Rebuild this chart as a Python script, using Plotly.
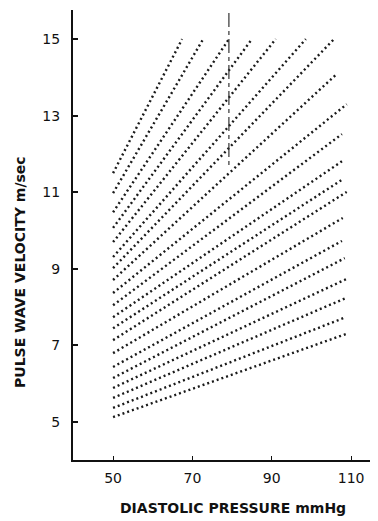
import plotly.graph_objects as go

# Diastolic pressure (mmHg) where every curve starts
start_pressure = [50] * 20
# Pulse wave velocity (m/sec) at the start of each curve
start_velocity = [11.50, 10.98, 10.48, 10.07, 9.70, 9.31, 9.02, 8.71, 8.37, 8.05,
                  7.74, 7.45, 7.14, 6.80, 6.44, 6.15, 5.89, 5.63, 5.37, 5.13]
# Diastolic pressure (mmHg) at the end of each curve
end_pressure = [67.4, 72.7, 79.2, 85.0, 91.0, 98.6, 105.7, 106.4, 108.9, 107.7,
                107.7, 107.9, 108.9, 107.9, 107.7, 108.4, 108.7, 108.7, 108.7, 108.7]
# Pulse wave velocity (m/sec) at the end of each curve
end_velocity = [15.0, 15.0, 15.0, 15.0, 15.0, 15.0, 15.0, 14.09, 13.30, 12.52,
                11.81, 11.34, 11.01, 10.33, 9.73, 9.28, 8.73, 8.24, 7.74, 7.30]

# vertical reference marker
marker_pressure = [79.2, 79.2]
marker_velocity = [15.68, 11.66]

x_ticks = [50, 70, 90, 110]
y_ticks = [5, 7, 9, 11, 13, 15]

x_title = "DIASTOLIC PRESSURE mmHg"
y_title = "PULSE WAVE VELOCITY m/sec"

fig = go.Figure()
for p0, v0, p1, v1 in zip(start_pressure, start_velocity, end_pressure, end_velocity):
    fig.add_trace(go.Scatter(
        x=[p0, p1], y=[v0, v1], mode="lines",
        line=dict(color="#1a1a1a", width=2.4, dash="2px,3px"),
        showlegend=False, hoverinfo="skip"))

fig.add_trace(go.Scatter(
    x=marker_pressure, y=marker_velocity, mode="lines",
    line=dict(color="#333333", width=1.2, dash="14px,4px,4px,4px"),
    showlegend=False, hoverinfo="skip"))

font_family = "DejaVu Sans, Liberation Sans, sans-serif"
title_font = dict(size=14, family=font_family, weight="bold", color="#111111")

fig.update_layout(
    width=378, height=513,
    margin=dict(l=65, r=0, t=2, b=61),
    paper_bgcolor="white", plot_bgcolor="white",
    font=dict(family=font_family, color="#111111"),
    xaxis=dict(
        range=[39.9, 118.8], tickvals=x_ticks, ticktext=[str(t) for t in x_ticks],
        automargin=False,
        showgrid=False, zeroline=False, showline=True, linecolor="#111111", linewidth=2,
        ticks="inside", ticklen=4, tickwidth=1, tickcolor="#111111",
        tickfont=dict(size=14, family=font_family),
        ticklabelstandoff=4,
    ),
    yaxis=dict(
        range=[4.01, 15.76], tickvals=y_ticks, ticktext=[str(t) for t in y_ticks],
        automargin=False,
        showgrid=False, zeroline=False, showline=True, linecolor="#111111", linewidth=2,
        ticks="inside", ticklen=5, tickwidth=1.5, tickcolor="#111111",
        tickfont=dict(size=14, family=font_family),
        ticklabelstandoff=8,
    ),
    annotations=[
        dict(text=x_title, xref="paper", yref="paper", x=0.511, y=-0.107,
             xanchor="center", yanchor="middle", showarrow=False, font=title_font),
        dict(text=y_title, xref="paper", yref="paper", x=-0.169, y=0.418,
             xanchor="center", yanchor="middle", textangle=-90, showarrow=False, font=title_font),
    ],
)

fig.write_html("out.html")
